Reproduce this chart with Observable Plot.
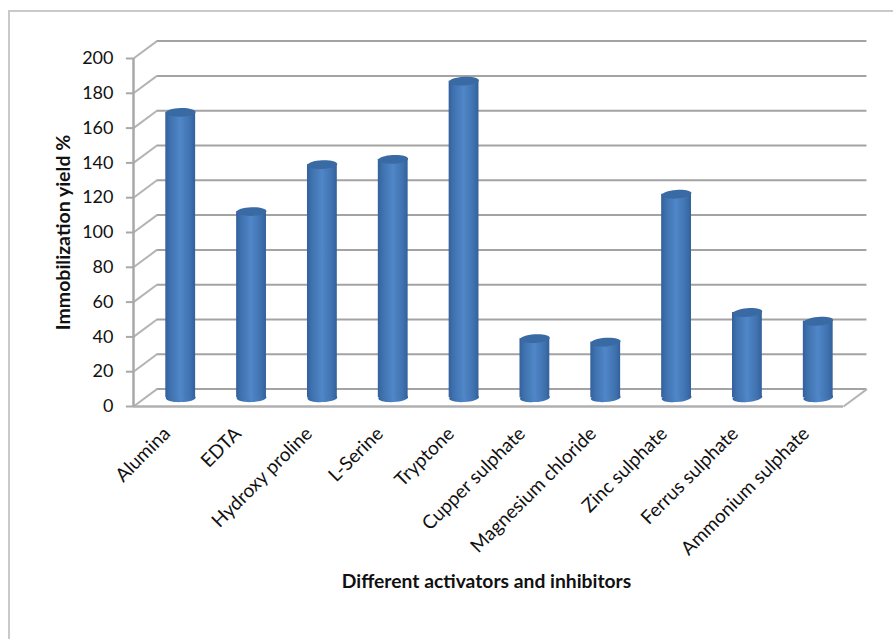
<!DOCTYPE html>
<html>
<head>
<meta charset="utf-8">
<script src="https://cdn.jsdelivr.net/npm/d3@7"></script>
<script src="https://cdn.jsdelivr.net/npm/@observablehq/plot@0.6"></script>
<style>
  html, body { margin: 0; padding: 0; background: #fff; }
  #chart { position: relative; width: 893px; height: 639px; overflow: hidden; }
  #chart svg { position: absolute; left: 0; top: 0; }
  #border { position: absolute; left: 8px; top: 10px; right: -4px; bottom: -4px;
            border: 2px solid #c9c9c9; }
</style>
</head>
<body>
<div id="chart"><div id="border"></div></div>
<script>
const categories = ["Alumina", "EDTA", "Hydroxy proline", "L-Serine", "Tryptone",
  "Cupper sulphate", "Magnesium chloride", "Zinc sulphate", "Ferrus sulphate", "Ammonium sulphate"];
const yields = [164, 107, 134, 137, 182, 34, 32, 117, 49, 44];
const yTicks = [0, 20, 40, 60, 80, 100, 120, 140, 160, 180, 200];

// The 3D box is expressed in scale units: one category is one x unit.
const depthX = 0.33, depthY = 10;
const halfWidth = 0.21;
const font = "Lato, Carlito, sans-serif";
const gridColor = "#a3a3a3";

const rows = categories.map((name, i) => ({
  name, value: yields[i], i,
  cx: 0.665 + i * 0.9977,
  tilt: -1.5 - i * 0.4
}));

// Flattened circle for the cylinder caps, drawn as four bezier arcs.
const capShape = {
  draw(ctx, size) {
    const rx = Math.sqrt(size / Math.PI), ry = rx * 0.29, k = 0.5523;
    ctx.moveTo(-rx, 0);
    ctx.bezierCurveTo(-rx, -k * ry, -k * rx, -ry, 0, -ry);
    ctx.bezierCurveTo(k * rx, -ry, rx, -k * ry, rx, 0);
    ctx.bezierCurveTo(rx, k * ry, k * rx, ry, 0, ry);
    ctx.bezierCurveTo(-k * rx, ry, -rx, k * ry, -rx, 0);
    ctx.closePath();
  }
};

const svg = Plot.plot({
  width: 893,
  height: 639,
  marginLeft: 133,
  marginRight: 50,
  marginTop: 58,
  marginBottom: 233,
  x: { type: "linear", domain: [0, 10], axis: null },
  y: { domain: [0, 200], axis: null },
  style: { fontFamily: font, background: "transparent", color: "#111" },
  marks: [
    // back wall lines
    Plot.ruleY(yTicks, { y: d => d + depthY, x1: depthX, x2: 10 + depthX, stroke: gridColor, strokeWidth: 2 }),
    // side wall diagonals
    Plot.link(yTicks, { x1: 0, y1: d => d, x2: depthX, y2: d => d + depthY, stroke: "#b4b4b4", strokeWidth: 2 }),
    // right edge of the floor
    Plot.link([0], { x1: 10, y1: 0, x2: 10 + depthX, y2: depthY, stroke: "#b4b4b4", strokeWidth: 2 }),
    // front edge of the floor
    Plot.ruleY([0], { x1: 0, x2: 10, stroke: "#b0b0b0", strokeWidth: 2.5 }),
    // front vertical axis and its tick marks
    Plot.ruleX([0], { y1: 0, y2: 200, stroke: "#a8a8a8", strokeWidth: 2.5 }),
    Plot.ruleY(yTicks, { x1: -0.1, x2: 0, stroke: "#a8a8a8", strokeWidth: 2 }),

    // cylinders: base cap, body, top cap
    Plot.dot(rows, { x: "cx", y: depthY / 2, r: 14.9, symbol: capShape, rotate: "tilt", fill: "url(#cylinderBody)", stroke: "none" }),
    Plot.rect(rows, {
      x1: d => d.cx - halfWidth, x2: d => d.cx + halfWidth,
      y1: depthY / 2, y2: d => d.value + depthY / 2,
      fill: "url(#cylinderBody)"
    }),
    Plot.dot(rows, { x: "cx", y: d => d.value + depthY / 2, r: 14.9, symbol: capShape, rotate: "tilt", fill: "#3a6aa4", stroke: "none" }),

    // value axis labels
    Plot.axisY({ ticks: yTicks, tickSize: 0, tickPadding: 20, label: null, fontSize: 18, fill: "#111" }),
    // slanted category labels
    Plot.text(rows, {
      x: d => d.i + 0.5, y: 0, text: "name", rotate: -45,
      textAnchor: "end", lineAnchor: "middle", dx: -2, dy: 24,
      fontSize: 19, fill: "#111"
    }),
    // axis titles
    Plot.text(["Immobilization yield %"], {
      frameAnchor: "left", dx: -70, rotate: -90, textAnchor: "middle",
      fontSize: 19.5, fontWeight: 700, fill: "#111"
    }),
    Plot.text(["Different activators and inhibitors"], {
      frameAnchor: "bottom", dx: -2, dy: 181, textAnchor: "middle",
      fontSize: 19.3, fontWeight: 700, fill: "#111"
    })
  ]
});

// Horizontal shading that makes the bars read as cylinders.
const gradient = d3.select(svg).insert("defs", ":first-child")
  .append("linearGradient").attr("id", "cylinderBody");
[[0, "#32609a"], [0.13, "#3d6fac"], [0.5, "#5087c8"], [0.87, "#3d6fac"], [1, "#32609a"]]
  .forEach(([offset, color]) => gradient.append("stop").attr("offset", offset).attr("stop-color", color));

document.getElementById("chart").appendChild(svg);
</script>
</body>
</html>
